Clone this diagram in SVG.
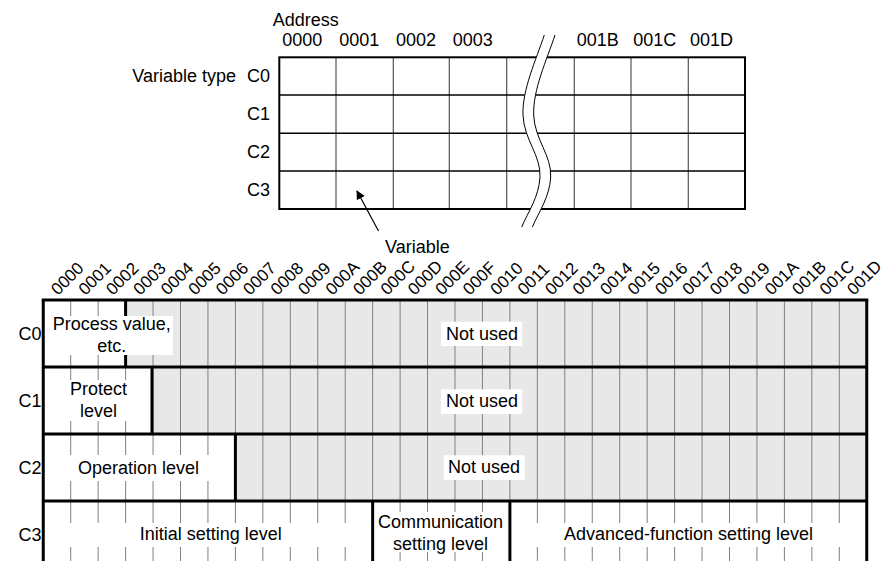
<svg xmlns="http://www.w3.org/2000/svg" width="882" height="561" viewBox="0 0 882 561">
<defs>
<style>
.t{font-family:"Liberation Sans",Arial,Helvetica,sans-serif;font-size:18px;fill:#000}
.m{text-anchor:middle}
.e{text-anchor:end}
.r{font-size:17px}
.thin{stroke:#808080;stroke-width:1;fill:none}
.vt{stroke:#555;stroke-width:1.2;fill:none}
.ht{stroke:#000;stroke-width:1.6;fill:none}
.thick{stroke:#000;stroke-width:3;fill:none}
.gray{fill:#e8e8e8}
.wb{fill:#fff}
.brk{stroke:#000;stroke-width:1;fill:none}
</style>
<marker id="ah" viewBox="0 0 10 10" refX="9" refY="5" markerWidth="9" markerHeight="9" markerUnits="userSpaceOnUse" orient="auto">
<path d="M0,0 L10,5 L0,10 z" fill="#000"/>
</marker>
</defs>
<rect width="882" height="561" fill="#fff"/>

<!-- Top table -->
<g id="top-table">
<text class="t" x="272.7" y="26">Address</text>
<text class="t" x="282.3" y="46">0000</text>
<text class="t" x="339.3" y="46">0001</text>
<text class="t" x="396" y="46">0002</text>
<text class="t" x="452.7" y="46">0003</text>
<text class="t" x="576.7" y="46">001B</text>
<text class="t" x="633.3" y="46">001C</text>
<text class="t" x="690" y="46">001D</text>
<text class="t" x="132.3" y="82">Variable type</text>
<text class="t e" x="270" y="82">C0</text>
<text class="t e" x="270" y="120">C1</text>
<text class="t e" x="270" y="158">C2</text>
<text class="t e" x="270" y="196">C3</text>
<g class="vt">
<line x1="336" y1="57.3" x2="336" y2="209"/>
<line x1="393.3" y1="57.3" x2="393.3" y2="209"/>
<line x1="449.3" y1="57.3" x2="449.3" y2="209"/>
<line x1="506.7" y1="57.3" x2="506.7" y2="209"/>
<line x1="574.3" y1="57.3" x2="574.3" y2="209"/>
<line x1="631" y1="57.3" x2="631" y2="209"/>
<line x1="688.3" y1="57.3" x2="688.3" y2="209"/>
</g>
<g class="ht">
<line x1="279.3" y1="95" x2="745" y2="95"/>
<line x1="279.3" y1="133.3" x2="745" y2="133.3"/>
<line x1="279.3" y1="171" x2="745" y2="171"/>
</g>
<rect x="279.3" y="57.3" width="465.7" height="151.7" fill="none" stroke="#000" stroke-width="2"/>
</g>

<g id="break">
<path class="wb" d="M544.3,35 C536,60 522,90 523,115 C524,140 541,155 540,177 C539,197 528,212 521.7,227 L532.4,227 C538.7,212 549.7,197 550.7,177 C551.7,155 534.7,140 533.7,115 C532.7,90 546.7,60 555,35 Z"/>
<path class="brk" d="M544.3,35 C536,60 522,90 523,115 C524,140 541,155 540,177 C539,197 528,212 521.7,227"/>
<path class="brk" d="M555,35 C546.7,60 532.7,90 533.7,115 C534.7,140 551.7,155 550.7,177 C549.7,197 538.7,212 532.4,227"/>
</g>

<g id="variable-label">
<text class="t" x="385" y="252.7">Variable</text>
</g>

<g id="connectors">
<line x1="378.5" y1="231" x2="357" y2="191" stroke="#000" stroke-width="1.2" marker-end="url(#ah)"/>
</g>

<!-- Bottom map -->
<g id="column-labels" class="t r">
<text transform="translate(58,296) rotate(-45)">0000</text>
<text transform="translate(85.4,296) rotate(-45)">0001</text>
<text transform="translate(112.9,296) rotate(-45)">0002</text>
<text transform="translate(140.3,296) rotate(-45)">0003</text>
<text transform="translate(167.8,296) rotate(-45)">0004</text>
<text transform="translate(195.2,296) rotate(-45)">0005</text>
<text transform="translate(222.7,296) rotate(-45)">0006</text>
<text transform="translate(250.1,296) rotate(-45)">0007</text>
<text transform="translate(277.6,296) rotate(-45)">0008</text>
<text transform="translate(305,296) rotate(-45)">0009</text>
<text transform="translate(332.5,296) rotate(-45)">000A</text>
<text transform="translate(359.9,296) rotate(-45)">000B</text>
<text transform="translate(387.4,296) rotate(-45)">000C</text>
<text transform="translate(414.8,296) rotate(-45)">000D</text>
<text transform="translate(442.3,296) rotate(-45)">000E</text>
<text transform="translate(469.7,296) rotate(-45)">000F</text>
<text transform="translate(497.2,296) rotate(-45)">0010</text>
<text transform="translate(524.6,296) rotate(-45)">0011</text>
<text transform="translate(552.1,296) rotate(-45)">0012</text>
<text transform="translate(579.5,296) rotate(-45)">0013</text>
<text transform="translate(607,296) rotate(-45)">0014</text>
<text transform="translate(634.4,296) rotate(-45)">0015</text>
<text transform="translate(661.9,296) rotate(-45)">0016</text>
<text transform="translate(689.3,296) rotate(-45)">0017</text>
<text transform="translate(716.8,296) rotate(-45)">0018</text>
<text transform="translate(744.2,296) rotate(-45)">0019</text>
<text transform="translate(771.7,296) rotate(-45)">001A</text>
<text transform="translate(799.1,296) rotate(-45)">001B</text>
<text transform="translate(826.6,296) rotate(-45)">001C</text>
<text transform="translate(854,296) rotate(-45)">001D</text>
</g>

<g id="row-labels" class="t m">
<text x="30" y="340">C0</text>
<text x="30" y="407">C1</text>
<text x="30" y="474">C2</text>
<text x="30" y="541">C3</text>
</g>

<g id="map-fills">
<rect class="gray" x="125.6" y="300" width="741.15" height="67"/>
<rect class="gray" x="152.5" y="367" width="714.25" height="67"/>
<rect class="gray" x="235.4" y="434" width="631.35" height="67"/>
</g>

<g id="map-grid" class="thin">
<path d="M70.7,300V561M98.15,300V561M125.6,300V561M153.05,300V561M180.5,300V561M207.95,300V561M235.4,300V561M262.85,300V561M290.3,300V561M317.75,300V561M345.2,300V561M372.65,300V561M400.1,300V561M427.55,300V561M455,300V561M482.45,300V561M509.9,300V561M537.35,300V561M564.8,300V561M592.25,300V561M619.7,300V561M647.15,300V561M674.6,300V561M702.05,300V561M729.5,300V561M756.95,300V561M784.4,300V561M811.85,300V561M839.3,300V561"/>
</g>

<g id="c0-process">
<line class="thick" x1="125.6" y1="300" x2="125.6" y2="367"/>
<rect class="wb" x="50" y="316" width="123" height="39"/>
<text class="t m" x="111.7" y="330">Process value,</text>
<text class="t m" x="111.7" y="351.5">etc.</text>
</g>
<g id="c0-notused">
<rect class="wb" x="441" y="321.7" width="81.3" height="24.3"/>
<text class="t m" x="482" y="339.5">Not used</text>
</g>

<g id="c1-protect">
<rect class="wb" x="45" y="380" width="106" height="41"/>
<text class="t m" x="98.5" y="395">Protect</text>
<text class="t m" x="98.5" y="416.7">level</text>
<line class="thick" x1="152" y1="367" x2="152" y2="434"/>
</g>
<g id="c1-notused">
<rect class="wb" x="441" y="389.3" width="81.3" height="24.7"/>
<text class="t m" x="482" y="406.7">Not used</text>
</g>

<g id="c2-operation">
<rect class="wb" x="45" y="455" width="189" height="26"/>
<text class="t m" x="138.5" y="474.3">Operation level</text>
<line class="thick" x1="235.4" y1="434" x2="235.4" y2="501"/>
</g>
<g id="c2-notused">
<rect class="wb" x="443.7" y="455.3" width="81" height="24.7"/>
<text class="t m" x="484" y="472.7">Not used</text>
</g>

<g id="c3-initial">
<rect class="wb" x="45" y="523" width="326" height="24"/>
<text class="t m" x="210.8" y="540">Initial setting level</text>
</g>
<g id="c3-communication">
<rect class="wb" x="374" y="512" width="134.5" height="40"/>
<text class="t m" x="440.5" y="528.3">Communication</text>
<text class="t m" x="440.5" y="550">setting level</text>
</g>
<g id="c3-advanced">
<rect class="wb" x="511.5" y="523" width="353.5" height="24"/>
<text class="t m" x="688.5" y="540">Advanced-function setting level</text>
</g>

<g id="map-borders" class="thick">
<line x1="372.65" y1="501" x2="372.65" y2="561"/>
<line x1="509.9" y1="501" x2="509.9" y2="561"/>
<line x1="41.75" y1="300" x2="868.25" y2="300"/>
<line x1="43.25" y1="367" x2="866.75" y2="367"/>
<line x1="43.25" y1="434" x2="866.75" y2="434"/>
<line x1="43.25" y1="501" x2="866.75" y2="501"/>
<line x1="43.25" y1="300" x2="43.25" y2="561"/>
<line x1="866.75" y1="300" x2="866.75" y2="561"/>
</g>
</svg>
